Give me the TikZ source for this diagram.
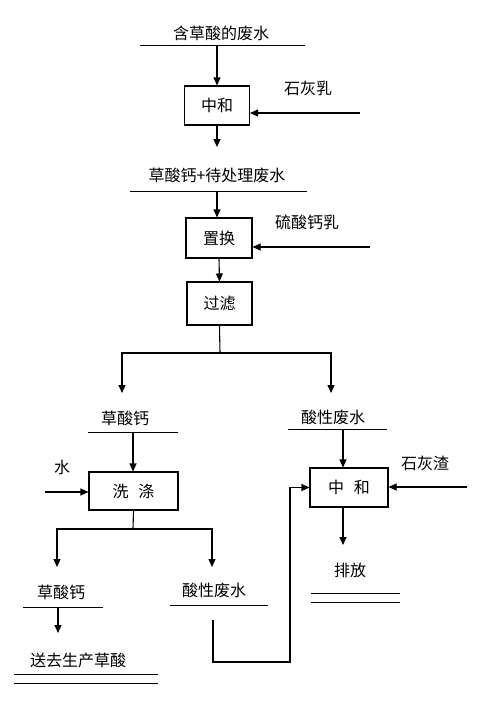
\documentclass[tikz,border=0pt]{standalone}
\usepackage{fontspec}
\setmainfont{Noto Sans CJK SC}
\usetikzlibrary{arrows.meta}
\begin{document}
\begin{tikzpicture}[x=1pt,y=-1pt,
  lbl/.style={font=\fontsize{16}{18}\selectfont, inner sep=0pt},
  box/.style={draw, line width=1.1pt, inner sep=0pt, font=\fontsize{16}{18}\selectfont},
  flow/.style={line width=1.1pt, -{Triangle[length=8pt,width=7pt]}},
  plain/.style={line width=1.1pt},
  rule/.style={line width=1pt}]
\useasboundingbox (0,0) rectangle (482,709);

% top: feed
\node[lbl] (t1) at (221,33) {含草酸的废水};
\coordinate (u1a) at (140,46); \coordinate (u1b) at (305,46);
\draw[rule] (u1a) -- (u1b);
\coordinate (s1) at (217,46);
\node[box, minimum width=65pt, minimum height=39pt] (b1) at (217,105.5) {中和};
\draw[flow] (s1) -- (b1.north);
\node[lbl] (t2) at (308,88) {石灰乳};
\coordinate (e2) at (360,113);
\draw[flow] (e2) -- (b1.east |- e2);
\coordinate (a3) at (217,147);
\draw[flow] (b1.south) -- (a3);

% second stage
\node[lbl] (t3) at (217,175) {草酸钙+待处理废水};
\coordinate (u3a) at (130,191); \coordinate (u3b) at (307,191);
\draw[rule] (u3a) -- (u3b);
\coordinate (s3) at (217,191);
\node[box, minimum width=66pt, minimum height=40pt] (b2) at (219,238) {置换};
\draw[flow] (s3) -- (s3 |- b2.north);
\node[lbl] (t4) at (307,222) {硫酸钙乳};
\coordinate (e4) at (370,247);
\draw[flow] (e4) -- (b2.east |- e4);
\node[box, minimum width=65pt, minimum height=43pt] (b3) at (219.5,303.5) {过滤};
\draw[flow] (b2.south) -- (b3.north);

% split
\coordinate (j1) at (220,353);
\coordinate (aL) at (122,393);
\coordinate (aR) at (331,393);
\draw[plain] (b3.south) -- (j1);
\draw[flow] (j1) -| (aL);
\draw[flow] (j1) -| (aR);

% left branch
\node[lbl] (t5) at (125,418) {草酸钙};
\coordinate (u5a) at (88,432); \coordinate (u5b) at (178,432);
\draw[rule] (u5a) -- (u5b);
\coordinate (s5) at (133,432);
\node[box, minimum width=89pt, minimum height=38pt] (b4) at (133.5,491) {洗\hspace{0.6em}涤};
\draw[flow] (s5) -- (s5 |- b4.north);
\node[lbl] (t6) at (62,467) {水};
\coordinate (e6) at (45,492);
\draw[flow] (e6) -- (b4.west |- e6);

% right branch
\node[lbl] (t7) at (333,417) {酸性废水};
\coordinate (u7a) at (288,429); \coordinate (u7b) at (387,429);
\draw[rule] (u7a) -- (u7b);
\coordinate (s7) at (343,429);
\node[box, minimum width=78pt, minimum height=39pt] (b5) at (349,487.5) {中\hspace{0.6em}和};
\draw[flow] (s7) -- (s7 |- b5.north);
\node[lbl] (t8) at (425,463) {石灰渣};
\coordinate (e8) at (467,487);
\draw[flow] (e8) -- (b5.east |- e8);
\coordinate (a9) at (343,545);
\draw[flow] (a9 |- b5.south) -- (a9);
\node[lbl] (t9) at (350,570) {排放};
\coordinate (u9a) at (311,593); \coordinate (u9b) at (400,593);
\coordinate (u9c) at (311,602); \coordinate (u9d) at (400,602);
\draw[rule] (u9a) -- (u9b);
\draw[rule] (u9c) -- (u9d);

% wash outputs
\coordinate (j2) at (133,529);
\coordinate (bL) at (57,567);
\coordinate (bR) at (212,567);
\draw[plain] (b4.south) -- (j2);
\draw[flow] (j2) -| (bL);
\draw[flow] (j2) -| (bR);

\node[lbl] (t10) at (61,592) {草酸钙};
\coordinate (u10a) at (23,607); \coordinate (u10b) at (103,607);
\draw[rule] (u10a) -- (u10b);
\coordinate (s10) at (58,607);
\coordinate (a10) at (58,633);
\draw[flow] (s10) -- (a10);
\node[lbl] (t11) at (78,660) {送去生产草酸};
\coordinate (u11a) at (14,674); \coordinate (u11b) at (158,674);
\coordinate (u11c) at (14,683); \coordinate (u11d) at (158,683);
\draw[rule] (u11a) -- (u11b);
\draw[rule] (u11c) -- (u11d);

\node[lbl] (t12) at (214,590) {酸性废水};
\coordinate (u12a) at (170,605); \coordinate (u12b) at (268,605);
\draw[rule] (u12a) -- (u12b);

% recycle loop
\coordinate (r1) at (213,620);
\coordinate (r2) at (290,662);
\draw[flow] (r1) |- (r2) |- (b5.west);
\end{tikzpicture}
\end{document}
